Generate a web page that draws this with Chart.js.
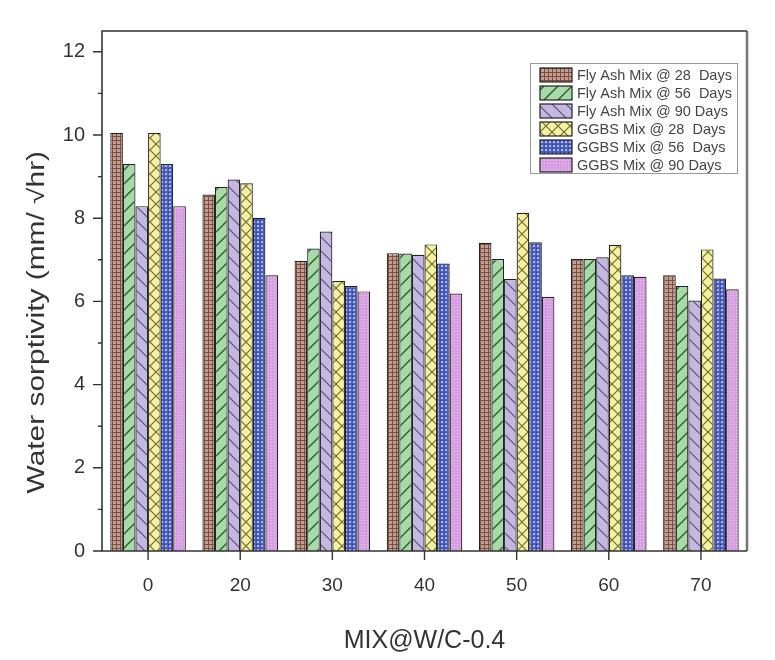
<!DOCTYPE html>
<html>
<head>
<meta charset="utf-8">
<script src="https://cdn.jsdelivr.net/npm/chart.js@4.4.1/dist/chart.umd.min.js"></script>
<style>
  html, body { margin: 0; padding: 0; background: #ffffff; }
  #wrap { width: 775px; height: 660px; }
</style>
</head>
<body>
<div id="wrap"><canvas id="chart" width="775" height="660"></canvas></div>
<script>
/* ===== Data ===== */
const categories = ["0", "20", "30", "40", "50", "60", "70"];
const seriesNames = [
  "Fly Ash Mix @ 28  Days",
  "Fly Ash Mix @ 56  Days",
  "Fly Ash Mix @ 90 Days",
  "GGBS Mix @ 28  Days",
  "GGBS Mix @ 56  Days",
  "GGBS Mix @ 90 Days",
];
const flyAsh28 = [10.05, 8.57, 6.97, 7.16, 7.41, 7.02, 6.63];
const flyAsh56 = [9.3, 8.75, 7.27, 7.15, 7.02, 7.02, 6.37];
const flyAsh90 = [8.29, 8.93, 7.68, 7.12, 6.54, 7.06, 6.02];
const ggbs28 = [10.05, 8.84, 6.49, 7.37, 8.13, 7.36, 7.25];
const ggbs56 = [9.3, 8.01, 6.37, 6.91, 7.42, 6.63, 6.55];
const ggbs90 = [8.29, 6.63, 6.24, 6.19, 6.11, 6.59, 6.29];
const yTicks = [0, 2, 4, 6, 8, 10, 12];
const yTitle = "Water sorptivity (mm/ \u221Ahr)";
const xTitle = "MIX@W/C-0.4";

const FONT = "'Liberation Sans', Arial, sans-serif";

/* ===== Fill patterns ===== */
function makePattern(size, base, draw) {
  const c = document.createElement("canvas");
  c.width = size;
  c.height = size;
  const g = c.getContext("2d");
  g.fillStyle = base;
  g.fillRect(0, 0, size, size);
  draw(g, size);
  return g.createPattern(c, "repeat");
}

const patGrid = makePattern(4, "#c49e90", (g) => {
  g.fillStyle = "#7a4e40";
  g.fillRect(0, 0, 4, 1);
  g.fillRect(0, 0, 1, 4);
});

const patSlash = makePattern(14, "#a6daa6", (g, s) => {
  g.strokeStyle = "#2f5a2f";
  g.lineWidth = 1.4;
  g.beginPath();
  g.moveTo(-2, s + 2); g.lineTo(s + 2, -2);
  g.moveTo(-2, 2); g.lineTo(2, -2);
  g.moveTo(s - 2, s + 2); g.lineTo(s + 2, s - 2);
  g.stroke();
});

const patBack = makePattern(14, "#c4b8e0", (g, s) => {
  g.strokeStyle = "#5b4d85";
  g.lineWidth = 1.2;
  g.beginPath();
  g.moveTo(-2, -2); g.lineTo(s + 2, s + 2);
  g.moveTo(s - 2, -2); g.lineTo(s + 2, 2);
  g.moveTo(-2, s - 2); g.lineTo(2, s + 2);
  g.stroke();
});

const patCross = makePattern(12, "#f5f1a4", (g, s) => {
  g.strokeStyle = "#6f6d2c";
  g.lineWidth = 1.2;
  g.beginPath();
  g.moveTo(0, 0); g.lineTo(s, s);
  g.moveTo(s, 0); g.lineTo(0, s);
  g.stroke();
});

const patDots = makePattern(4, "#4a5cbc", (g) => {
  g.fillStyle = "#a8b6ee";
  g.fillRect(1, 1, 2, 2);
  g.fillStyle = "#2a3286";
  g.fillRect(0, 0, 1, 1);
});

const patPink = makePattern(3, "#d79ee3", (g) => {
  g.fillStyle = "#ebc6f1";
  g.fillRect(1, 1, 1, 1);
});

const fills = [patGrid, patSlash, patBack, patCross, patDots, patPink];
const values = [flyAsh28, flyAsh56, flyAsh90, ggbs28, ggbs56, ggbs90];

/* ===== Plugins ===== */
// plot frame + outward ticks (major every 2, minor in between)
const frameTicks = {
  id: "frameTicks",
  afterDraw(chart) {
    const ctx = chart.ctx;
    const { left, right, top, bottom } = chart.chartArea;
    const yScale = chart.scales.y;
    const xScale = chart.scales.x;
    ctx.save();
    ctx.strokeStyle = "#777777";
    ctx.lineWidth = 2.6;
    ctx.beginPath();
    ctx.moveTo(right, top);
    ctx.lineTo(right, bottom);
    ctx.stroke();
    ctx.strokeStyle = "#333333";
    ctx.lineWidth = 1.6;
    ctx.beginPath();
    ctx.moveTo(right, top);
    ctx.lineTo(left, top);
    ctx.lineTo(left, bottom);
    ctx.lineTo(right, bottom);
    ctx.stroke();
    ctx.lineWidth = 1.4;
    ctx.beginPath();
    for (let v = 0; v <= 12; v++) {
      const y = yScale.getPixelForValue(v);
      const len = v % 2 === 0 ? 9 : 4;
      ctx.moveTo(left - len, y);
      ctx.lineTo(left, y);
    }
    categories.forEach((_, i) => {
      const x = xScale.getPixelForValue(i);
      ctx.moveTo(x, bottom);
      ctx.lineTo(x, bottom + 9);
    });
    ctx.stroke();
    ctx.restore();
  },
};

// boxed legend inside the plot, top right
const boxLegend = {
  id: "boxLegend",
  afterDraw(chart) {
    const ctx = chart.ctx;
    const { right, top } = chart.chartArea;
    const boxW = 207;
    const boxH = 110;
    const bx = right - 10 - boxW;
    const by = top + 32;
    const rowH = 18;
    ctx.save();
    ctx.fillStyle = "#ffffff";
    ctx.fillRect(bx, by, boxW, boxH);
    ctx.strokeStyle = "#9a9a9a";
    ctx.lineWidth = 1;
    ctx.strokeRect(bx + 0.5, by + 0.5, boxW, boxH);
    ctx.font = `14.5px ${FONT}`;
    ctx.textBaseline = "middle";
    seriesNames.forEach((name, i) => {
      const cy = by + 12 + i * rowH;
      ctx.fillStyle = fills[i];
      ctx.fillRect(bx + 10, cy - 7, 32, 14);
      ctx.strokeStyle = "#222222";
      ctx.lineWidth = 1.2;
      ctx.strokeRect(bx + 10, cy - 7, 32, 14);
      ctx.fillStyle = "#454545";
      ctx.fillText(name, bx + 47, cy + 1);
    });
    ctx.restore();
  },
};

// y title: long, stretched text sitting a bit below the plot centre
const yTitleDraw = {
  id: "yTitleDraw",
  afterDraw(chart) {
    const ctx = chart.ctx;
    const yScale = chart.scales.y;
    const cy = yScale.getPixelForValue(5.5);
    ctx.save();
    ctx.translate(38, cy);
    ctx.rotate(-Math.PI / 2);
    ctx.scale(1.3, 1);
    ctx.font = `23px ${FONT}`;
    ctx.fillStyle = "#333333";
    ctx.textAlign = "center";
    ctx.textBaseline = "middle";
    ctx.fillText(yTitle, 0, 0);
    ctx.restore();
  },
};

/* ===== Chart ===== */
const datasets = values.map((data, i) => ({
  label: seriesNames[i],
  data: data,
  backgroundColor: fills[i],
  borderColor: "#222222",
  borderWidth: 1.2,
  barPercentage: 1.0,
  categoryPercentage: 0.82,
}));

new Chart(document.getElementById("chart"), {
  type: "bar",
  data: { labels: categories, datasets: datasets },
  plugins: [frameTicks, boxLegend, yTitleDraw],
  options: {
    responsive: false,
    animation: false,
    layout: { padding: { top: 31, right: 28, left: 0, bottom: 0 } },
    plugins: {
      legend: { display: false },
      tooltip: { enabled: false },
    },
    scales: {
      x: {
        grid: { display: false, drawTicks: false },
        border: { display: false },
        ticks: {
          padding: 23,
          color: "#333333",
          font: { family: FONT, size: 19 },
        },
        title: {
          display: true,
          text: xTitle,
          color: "#333333",
          padding: { top: 0, bottom: 4 },
          font: { family: FONT, size: 25 },
        },
        afterFit(scale) {
          scale.height = 109;
        },
      },
      y: {
        min: 0,
        max: 12.5,
        grid: { display: false, drawTicks: false },
        border: { display: false },
        afterBuildTicks(scale) {
          scale.ticks = yTicks.map((v) => ({ value: v }));
        },
        ticks: {
          padding: 17,
          color: "#333333",
          font: { family: FONT, size: 20 },
        },
        title: { display: false },
        afterFit(scale) {
          scale.width = 102;
        },
      },
    },
  },
});
</script>
</body>
</html>
